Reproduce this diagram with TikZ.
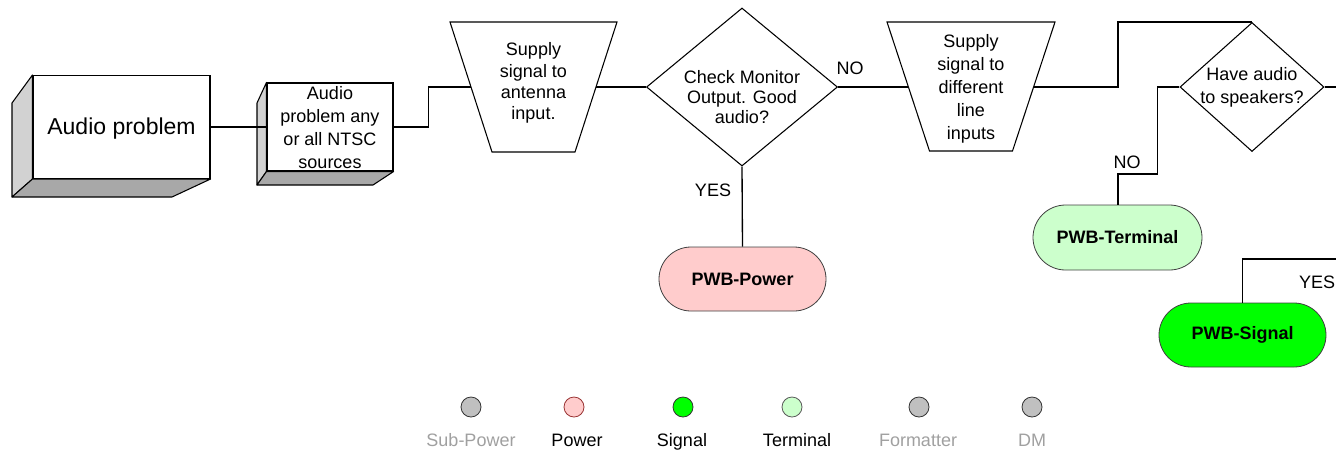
\documentclass[tikz,border=0pt]{standalone}
\usepackage{fontspec}
\setmainfont{Liberation Sans}
\usetikzlibrary{shapes.geometric,shapes.misc}
\definecolor{sidegray}{HTML}{D2D2D2}
\definecolor{basegray}{HTML}{A8A8A8}
\definecolor{powerfill}{HTML}{FFCCCC}
\definecolor{poweredge}{HTML}{993333}
\definecolor{signalfill}{HTML}{00FF00}
\definecolor{termfill}{HTML}{CCFFCC}
\definecolor{subfill}{HTML}{C0C0C0}
\definecolor{mutedtext}{HTML}{A0A0A0}

\begin{document}
\begin{tikzpicture}[x=0.75pt,y=-0.75pt,
  every node/.style={font=\fontsize{13.5}{16}\selectfont},
  face/.style={draw, line width=0.8pt, fill=white, inner sep=0},
  sideface/.style={draw, line width=0.8pt, line join=round},
  trapline/.style={draw, line width=0.8pt, line join=miter},
  decide/.style={diamond, draw, line width=0.8pt, inner sep=0},
  pill/.style={rounded rectangle, draw=black!75, line width=0.6pt, inner sep=0,
    minimum width=125.25pt, minimum height=48pt,
    font=\fontsize{13.5}{16}\selectfont\bfseries},
  wire/.style={line width=1pt},
  lbl/.style={align=center, inner sep=0},
  dot/.style={circle, draw=black!80, line width=0.6pt, minimum size=15pt, inner sep=0},
  key/.style={inner sep=0, anchor=base}
]
\useasboundingbox (0,0) rectangle (1336,455);

% --- 3D start boxes ---
\node[face, minimum width=132.75pt, minimum height=77.25pt] (b1) at (121.5,127) {};
\node[lbl, font=\fontsize{17.25}{20}\selectfont] (b1t) at (121.5,129) {Audio problem};
\filldraw[sideface, fill=sidegray] (b1.north west) -- (12,103) -- (12,197) -- (b1.south west) -- cycle;
\filldraw[sideface, fill=basegray] (b1.south west) -- (b1.south east) -- (172,197) -- (12,197) -- cycle;

\node[face, minimum width=94.5pt, minimum height=66pt] (b2) at (330,127) {};
\node[lbl, font=\fontsize{13.5}{17.25}\selectfont] (b2t) at (330,127.5)
  {Audio\\problem any\\or all NTSC\\sources};
\filldraw[sideface, fill=sidegray] (b2.north west) -- (257,103) -- (257,185) -- (b2.south west) -- cycle;
\filldraw[sideface, fill=basegray] (b2.south west) -- (b2.south east) -- (373,185) -- (257,185) -- cycle;

% --- manual-operation steps (inverted trapezoids) ---
\draw[trapline] (450,22) -- (617,22) -- (575,152) -- (492,152) -- cycle;
\coordinate (t1w) at (471,87);
\coordinate (t1e) at (596,87);
\node[lbl, font=\fontsize{13.5}{15.9}\selectfont] (t1t) at (533.5,83)
  {Supply\\signal to\\antenna\\input.};

\draw[trapline] (887,22) -- (1055,22) -- (1012.5,151) -- (929.5,151) -- cycle;
\coordinate (t2w) at (908,87);
\coordinate (t2e) at (1034,87);
\node[lbl, font=\fontsize{13.5}{17.2}\selectfont] (t2t) at (971,88.5)
  {Supply\\signal to\\different\\line\\inputs};

% --- decisions ---
\node[decide, minimum width=143.25pt, minimum height=118.5pt] (d1) at (742,87) {};
\node[lbl, font=\fontsize{13.5}{15}\selectfont] (d1t) at (742,97)
  {Check Monitor\\Output. Good\\audio?};

\node[decide, minimum width=108pt, minimum height=96.75pt] (d2) at (1252,87) {};
\node[lbl, font=\fontsize{13.5}{17.25}\selectfont] (d2t) at (1252,87)
  {Have audio\\to speakers?};

% --- terminal results ---
\node[pill, fill=powerfill] (pwr) at (742.5,279) {PWB-Power};
\node[pill, fill=termfill, minimum width=126.75pt, minimum height=48.75pt] (term) at (1117.5,237.5) {PWB-Terminal};
\node[pill, fill=signalfill] (sig) at (1242.5,335) {PWB-Signal};

% --- connectors ---
\coordinate (j1) at (1118,87);
\coordinate (j2) at (1118,174);
\coordinate (outR) at (1336,87);
\coordinate (outY) at (1336,259);

\draw[wire] (b1.east) -- (b2.west);
\draw[wire] (b2.east) -- ++(35,0) |- (t1w);
\draw[wire] (t1e) -- (d1.west);
\draw[wire] (d1.east) -- (t2w);
\draw[wire] (d1.south) -- (pwr.north);
\draw[wire] (t2e) -- (j1) |- (d2.north);
\draw[wire] (d2.east) -- (outR);
\draw[wire] (d2.west) -- ++(-22,0) |- (j2) -- (j2 |- term.north);
\draw[wire] (outY) -| (sig.north);

% --- branch labels ---
\node[key] (no1) at (850,74) {NO};
\node[key] (yes1) at (713,196) {YES};
\node[key] (no2) at (1127,168) {NO};
\node[key] (yes2) at (1317,288) {YES};

% --- legend ---
\node[dot, fill=subfill] (k1) at (471,407) {};
\node[dot, fill=powerfill, draw=poweredge] (k2) at (574,407) {};
\node[dot, fill=signalfill] (k3) at (683,407) {};
\node[dot, fill=termfill, draw=black!65] (k4) at (792,407) {};
\node[dot, fill=subfill] (k5) at (919,407) {};
\node[dot, fill=subfill] (k6) at (1032,407) {};

\node[key, text=mutedtext] (k1t) at (471,446) {Sub-Power};
\node[key] (k2t) at (577,446) {Power};
\node[key] (k3t) at (682,446) {Signal};
\node[key] (k4t) at (797,446) {Terminal};
\node[key, text=mutedtext] (k5t) at (918,446) {Formatter};
\node[key, text=mutedtext] (k6t) at (1032,446) {DM};
\end{tikzpicture}
\end{document}
